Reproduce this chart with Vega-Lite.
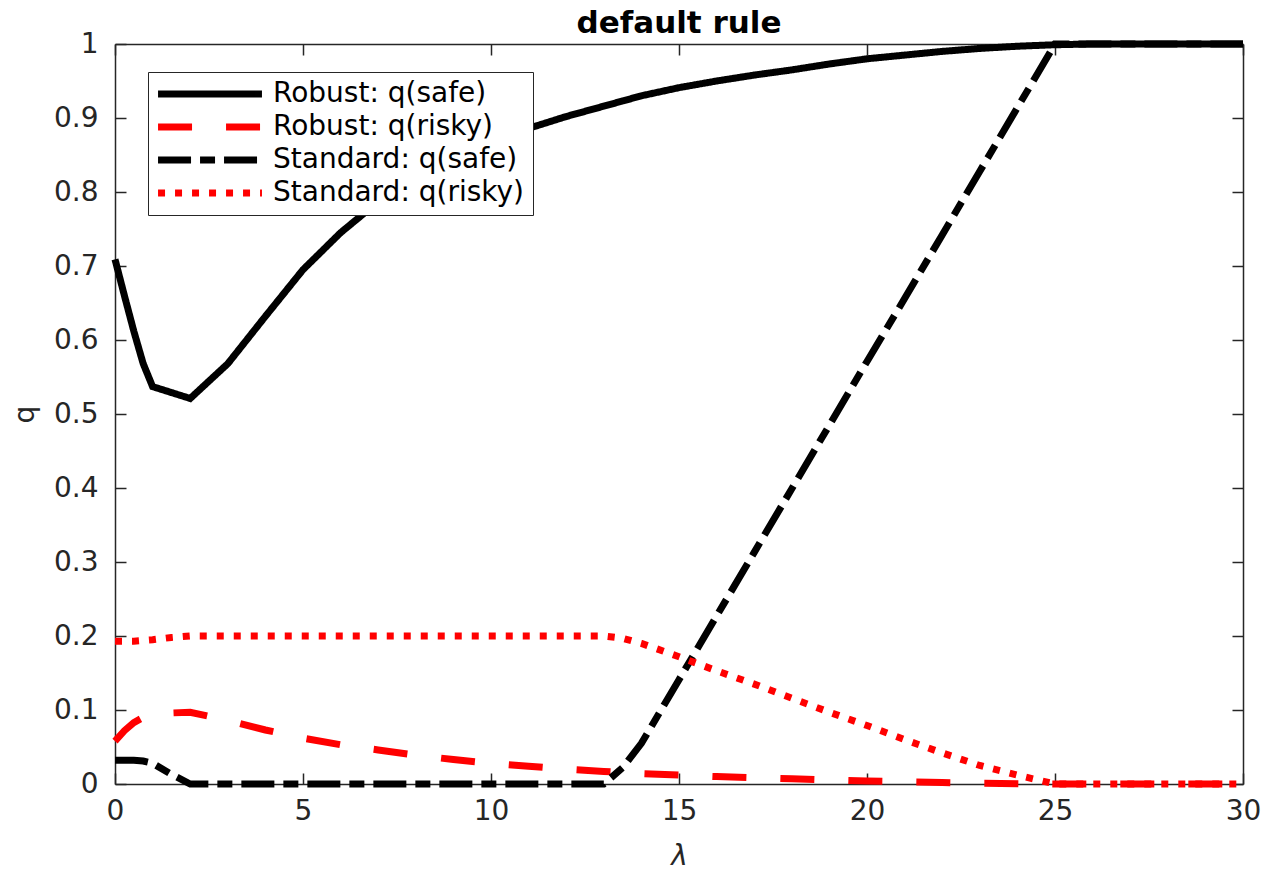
{
  "$schema": "https://vega.github.io/schema/vega-lite/v6.json",
  "width": 1128,
  "height": 740,
  "autosize": "none",
  "padding": {"left": 115, "top": 44, "right": 28, "bottom": 93},
  "background": "white",
  "title": {"text": "default rule", "font": "DejaVu Sans", "fontSize": 31, "fontWeight": "bold", "color": "black", "offset": -10, "anchor": "middle"},
  "config": {
    "view": {"stroke": null},
    "axis": {"grid": false, "domainColor": "#262626", "domainWidth": 1.5, "tickColor": "#262626", "tickWidth": 1.5, "tickSize": -11, "labelFont": "DejaVu Sans", "labelFontSize": 28, "labelColor": "#262626", "titleColor": "#262626", "labelFlush": false}
  },
  "data": {"values": [
    {"x": 0, "Robust: q(safe)": 0.709, "Robust: q(risky)": 0.058, "Standard: q(safe)": 0.032, "Standard: q(risky)": 0.193},
    {"x": 0.25, "Robust: q(safe)": 0.66, "Robust: q(risky)": 0.072, "Standard: q(safe)": 0.032, "Standard: q(risky)": 0.193},
    {"x": 0.5, "Robust: q(safe)": 0.612, "Robust: q(risky)": 0.083, "Standard: q(safe)": 0.032, "Standard: q(risky)": 0.193},
    {"x": 0.75, "Robust: q(safe)": 0.568, "Robust: q(risky)": 0.09, "Standard: q(safe)": 0.031, "Standard: q(risky)": 0.194},
    {"x": 1, "Robust: q(safe)": 0.537, "Robust: q(risky)": 0.094, "Standard: q(safe)": 0.028, "Standard: q(risky)": 0.195},
    {"x": 1.5, "Robust: q(safe)": 0.529, "Robust: q(risky)": 0.096, "Standard: q(safe)": 0.013, "Standard: q(risky)": 0.198},
    {"x": 2, "Robust: q(safe)": 0.521, "Robust: q(risky)": 0.097, "Standard: q(safe)": 0, "Standard: q(risky)": 0.2},
    {"x": 3, "Robust: q(safe)": 0.568, "Robust: q(risky)": 0.086, "Standard: q(safe)": 0, "Standard: q(risky)": 0.2},
    {"x": 4, "Robust: q(safe)": 0.632, "Robust: q(risky)": 0.073, "Standard: q(safe)": 0, "Standard: q(risky)": 0.2},
    {"x": 5, "Robust: q(safe)": 0.695, "Robust: q(risky)": 0.062, "Standard: q(safe)": 0, "Standard: q(risky)": 0.2},
    {"x": 6, "Robust: q(safe)": 0.745, "Robust: q(risky)": 0.053, "Standard: q(safe)": 0, "Standard: q(risky)": 0.2},
    {"x": 7, "Robust: q(safe)": 0.787, "Robust: q(risky)": 0.046, "Standard: q(safe)": 0, "Standard: q(risky)": 0.2},
    {"x": 8, "Robust: q(safe)": 0.822, "Robust: q(risky)": 0.039, "Standard: q(safe)": 0, "Standard: q(risky)": 0.2},
    {"x": 9, "Robust: q(safe)": 0.849, "Robust: q(risky)": 0.033, "Standard: q(safe)": 0, "Standard: q(risky)": 0.2},
    {"x": 10, "Robust: q(safe)": 0.869, "Robust: q(risky)": 0.028, "Standard: q(safe)": 0, "Standard: q(risky)": 0.2},
    {"x": 11, "Robust: q(safe)": 0.886, "Robust: q(risky)": 0.024, "Standard: q(safe)": 0, "Standard: q(risky)": 0.2},
    {"x": 12, "Robust: q(safe)": 0.902, "Robust: q(risky)": 0.02, "Standard: q(safe)": 0, "Standard: q(risky)": 0.2},
    {"x": 13, "Robust: q(safe)": 0.916, "Robust: q(risky)": 0.017, "Standard: q(safe)": 0, "Standard: q(risky)": 0.2},
    {"x": 13.5, "Robust: q(safe)": 0.923, "Robust: q(risky)": 0.0155, "Standard: q(safe)": 0.022, "Standard: q(risky)": 0.197},
    {"x": 14, "Robust: q(safe)": 0.93, "Robust: q(risky)": 0.014, "Standard: q(safe)": 0.055, "Standard: q(risky)": 0.19},
    {"x": 15, "Robust: q(safe)": 0.941, "Robust: q(risky)": 0.012, "Standard: q(safe)": 0.141, "Standard: q(risky)": 0.172},
    {"x": 16, "Robust: q(safe)": 0.95, "Robust: q(risky)": 0.01, "Standard: q(safe)": 0.227, "Standard: q(risky)": 0.153},
    {"x": 17, "Robust: q(safe)": 0.958, "Robust: q(risky)": 0.0085, "Standard: q(safe)": 0.313, "Standard: q(risky)": 0.135},
    {"x": 18, "Robust: q(safe)": 0.965, "Robust: q(risky)": 0.007, "Standard: q(safe)": 0.399, "Standard: q(risky)": 0.116},
    {"x": 19, "Robust: q(safe)": 0.973, "Robust: q(risky)": 0.0055, "Standard: q(safe)": 0.485, "Standard: q(risky)": 0.097},
    {"x": 20, "Robust: q(safe)": 0.98, "Robust: q(risky)": 0.004, "Standard: q(safe)": 0.571, "Standard: q(risky)": 0.079},
    {"x": 21, "Robust: q(safe)": 0.985, "Robust: q(risky)": 0.003, "Standard: q(safe)": 0.656, "Standard: q(risky)": 0.06},
    {"x": 22, "Robust: q(safe)": 0.99, "Robust: q(risky)": 0.002, "Standard: q(safe)": 0.742, "Standard: q(risky)": 0.042},
    {"x": 23, "Robust: q(safe)": 0.994, "Robust: q(risky)": 0.001, "Standard: q(safe)": 0.828, "Standard: q(risky)": 0.025},
    {"x": 24, "Robust: q(safe)": 0.997, "Robust: q(risky)": 0.0005, "Standard: q(safe)": 0.914, "Standard: q(risky)": 0.012},
    {"x": 25, "Robust: q(safe)": 0.999, "Robust: q(risky)": 0, "Standard: q(safe)": 1, "Standard: q(risky)": 0},
    {"x": 26, "Robust: q(safe)": 1, "Robust: q(risky)": 0, "Standard: q(safe)": 1, "Standard: q(risky)": 0},
    {"x": 27, "Robust: q(safe)": 1, "Robust: q(risky)": 0, "Standard: q(safe)": 1, "Standard: q(risky)": 0},
    {"x": 28, "Robust: q(safe)": 1, "Robust: q(risky)": 0, "Standard: q(safe)": 1, "Standard: q(risky)": 0},
    {"x": 29, "Robust: q(safe)": 1, "Robust: q(risky)": 0, "Standard: q(safe)": 1, "Standard: q(risky)": 0},
    {"x": 30, "Robust: q(safe)": 1, "Robust: q(risky)": 0, "Standard: q(safe)": 1, "Standard: q(risky)": 0}
  ]},
  "transform": [
    {"fold": ["Robust: q(safe)", "Robust: q(risky)", "Standard: q(safe)", "Standard: q(risky)"], "as": ["series", "q"]}
  ],
  "resolve": {"axis": {"x": "independent", "y": "independent"}},
  "layer": [
    {
      "mark": {"type": "line", "strokeWidth": 7, "strokeCap": "butt", "clip": false},
      "encoding": {
        "x": {"field": "x", "type": "quantitative", "scale": {"domain": [0, 30], "nice": false},
              "axis": {"values": [0, 5, 10, 15, 20, 25, 30], "labelPadding": 24, "title": "λ", "titleFont": "DejaVu Sans", "titleFontStyle": "italic", "titleFontWeight": "normal", "titleFontSize": 28, "titlePadding": 17}},
        "y": {"field": "q", "type": "quantitative", "scale": {"domain": [0, 1], "nice": false},
              "axis": {"values": [0, 0.1, 0.2, 0.3, 0.4, 0.5, 0.6, 0.7, 0.8, 0.9, 1], "format": "~g", "labelPadding": 28, "title": "q", "titleFont": "DejaVu Sans", "titleFontWeight": "normal", "titleFontSize": 28, "titlePadding": 14}},
        "color": {"field": "series", "type": "nominal",
                  "scale": {"domain": ["Robust: q(safe)", "Robust: q(risky)", "Standard: q(safe)", "Standard: q(risky)"], "range": ["#000000", "#ff0000", "#000000", "#ff0000"]},
                  "legend": {"title": null, "orient": "none", "legendX": 33, "legendY": 28, "symbolType": "M-10,0H10", "symbolSize": 108, "symbolStrokeWidth": 7, "symbolOffset": 40, "labelOffset": 49, "labelFont": "DejaVu Sans", "labelFontSize": 28, "labelColor": "black", "strokeColor": "#262626", "fillColor": "white", "padding": 8, "rowPadding": 5, "labelLimit": 400}},
        "strokeDash": {"field": "series", "type": "nominal",
                  "scale": {"domain": ["Robust: q(safe)", "Robust: q(risky)", "Standard: q(safe)", "Standard: q(risky)"], "range": [[1, 0], [34, 34], [33, 9, 15, 9], [7, 10]]},
                  "legend": {"title": null}}
      }
    },
    {
      "mark": {"type": "rule", "opacity": 0},
      "encoding": {
        "x": {"field": "x", "type": "quantitative", "axis": {"orient": "top", "values": [0, 5, 10, 15, 20, 25, 30], "labels": false, "title": null}},
        "y": {"field": "q", "type": "quantitative", "axis": {"orient": "right", "values": [0, 0.1, 0.2, 0.3, 0.4, 0.5, 0.6, 0.7, 0.8, 0.9, 1], "labels": false, "title": null}}
      }
    }
  ]
}
